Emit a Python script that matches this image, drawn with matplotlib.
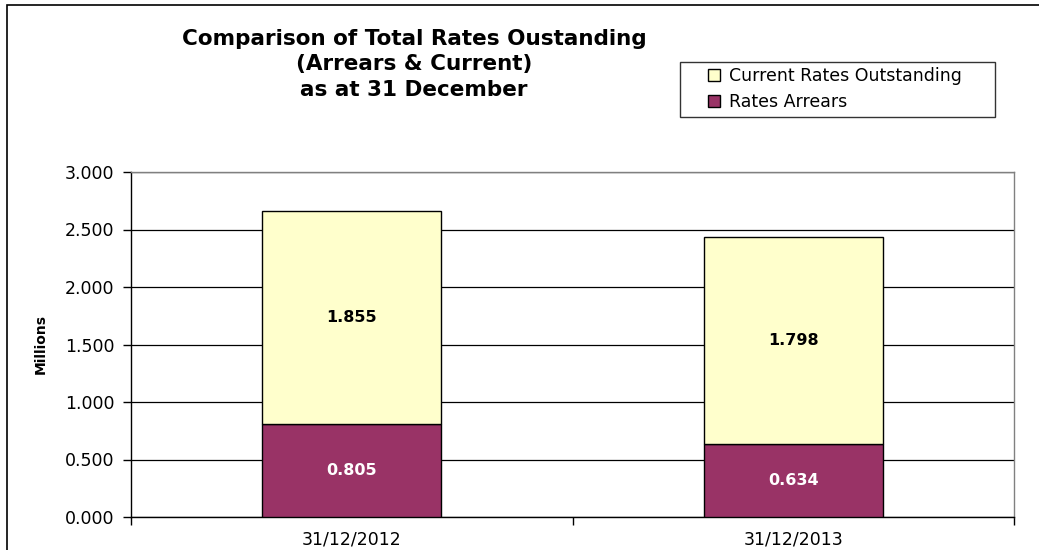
import matplotlib.pyplot as plt
from matplotlib.patches import Rectangle

plt.rcParams['font.family'] = ['DejaVu Sans']

# data (millions)
dates = ['31/12/2012', '31/12/2013']
arrears = [0.805, 0.634]
current = [1.855, 1.798]

purple = '#993366'
yellow = '#FFFFCC'

fig = plt.figure(figsize=(10.39, 5.5), dpi=100)

# outer chart frame
fig.patches.append(Rectangle((7 / 1039, -0.1), 1.2, 0.1 + 545 / 550,
                             transform=fig.transFigure, fill=False,
                             edgecolor='black', linewidth=1.2))

ax = fig.add_axes([131 / 1039, 33 / 550, (1014 - 131) / 1039, (517 - 172) / 550])

x = [0, 1]
b1 = ax.bar(x, arrears, width=0.405, color=purple, edgecolor='black',
            linewidth=1, label='Rates Arrears', zorder=3)
b2 = ax.bar(x, current, width=0.405, bottom=arrears, color=yellow,
            edgecolor='black', linewidth=1, label='Current Rates Outstanding', zorder=3)

for i in x:
    ax.text(i, arrears[i] / 2, f'{arrears[i]:.3f}', ha='center', va='center',
            fontsize=11.5, fontweight='bold', color='white', zorder=4)
    ax.text(i, arrears[i] + current[i] / 2, f'{current[i]:.3f}', ha='center',
            va='center', fontsize=11.5, fontweight='bold', color='black', zorder=4)

ax.set_xlim(-0.5, 1.5)
ax.set_ylim(0, 3)
ax.set_yticks([0, 0.5, 1, 1.5, 2, 2.5, 3])
ax.set_yticklabels([f'{v:.3f}' for v in ax.get_yticks()], fontsize=12.5)
ax.set_xticks([-0.5, 0.5, 1.5])
ax.set_xticklabels([])
ax.set_xticks(x, minor=True)
ax.set_xticklabels(dates, minor=True, fontsize=12.5)
ax.tick_params(axis='x', which='minor', length=0, pad=10)
ax.tick_params(axis='x', which='major', length=6, width=1, direction='out')
ax.tick_params(axis='y', length=6, width=1, direction='out', pad=6)

ax.yaxis.grid(True, color='black', linewidth=0.9, zorder=0)
ax.set_axisbelow(True)
ax.spines['top'].set_color('#808080')
ax.spines['right'].set_color('#808080')
for s in ax.spines.values():
    s.set_linewidth(1)

ax.set_ylabel('Millions', fontsize=10, fontweight='bold', labelpad=12)

fig.text(414 / 1039, 1 - 29 / 550,
         'Comparison of Total Rates Oustanding\n(Arrears & Current)\nas at 31 December',
         ha='center', va='top', fontsize=15.5, fontweight='bold', linespacing=1.33)

# legend box drawn separately so its padding can be set freely
fig.patches.append(Rectangle((680 / 1039, 1 - 117 / 550), 315 / 1039, 55 / 550,
                             transform=fig.transFigure, facecolor='white',
                             edgecolor='#333333', linewidth=1))
leg = fig.legend(handles=[b2, b1], loc='upper left',
                 bbox_to_anchor=(708 / 1039, 1 - 67 / 550), fontsize=12.5,
                 frameon=False, handlelength=0.7, handleheight=0.7,
                 handletextpad=0.5, borderpad=0, labelspacing=0.45,
                 borderaxespad=0)

fig.savefig('out.png', dpi=100)
